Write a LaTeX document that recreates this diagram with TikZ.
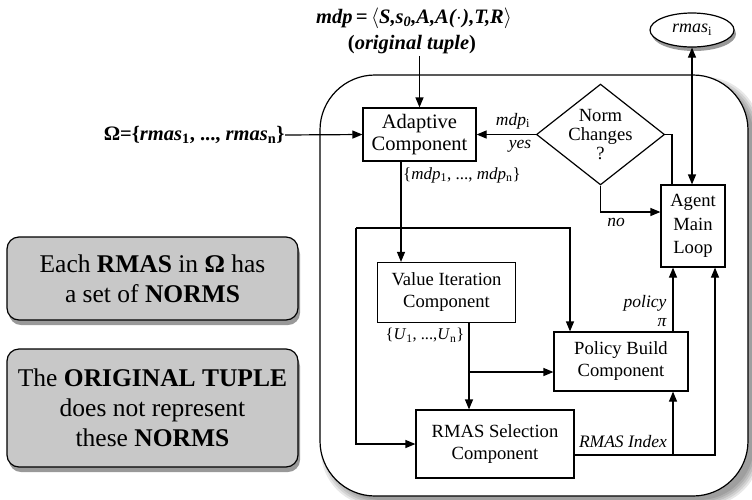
\documentclass[tikz,border=0pt]{standalone}
\usepackage{fontspec}
\setmainfont{Liberation Serif}
\usetikzlibrary{arrows.meta,shapes.geometric,shadows,calc}
\definecolor{boxgray}{RGB}{200,200,200}
\begin{document}
\begin{tikzpicture}[x=1pt,y=-1pt,
  arr/.style={-{Triangle[length=10pt,width=8pt]}},
  arr2/.style={{Triangle[length=10pt,width=8pt]}-{Triangle[length=10pt,width=8pt]}},
  comp/.style={draw,line width=1.2pt,inner sep=0pt,align=center,font=\fontsize{18.6}{22}\selectfont},
  lab/.style={inner sep=0pt,font=\fontsize{17.5}{19}\selectfont\itshape},
  note/.style={draw,line width=1.2pt,rounded corners=12pt,fill=boxgray,align=center,inner sep=0pt,
    font=\fontsize{25.5}{30}\selectfont,
    drop shadow={shadow xshift=2pt,shadow yshift=-5pt,opacity=0.4,fill=black}},
  every path/.style={line width=1.2pt}]
\useasboundingbox (0,0) rectangle (752,499);
% big container with soft shadow
\foreach \d in {0,1.5,3,4.5,6}{
  \fill[black,opacity=0.09,rounded corners=55pt] (321+\d,77+\d) rectangle (760-\d,506-\d);
}
\draw[line width=1.2pt,fill=white,rounded corners=55pt] (320,75) rectangle (748,496);
% notes
\node[note,minimum width=291pt,minimum height=83pt] (n1) at (152.5,278.5)
  {Each \textbf{RMAS} in \textbf{Ω} has\\a set of \textbf{NORMS}};
\node[note,minimum width=291pt,minimum height=118pt] (n2) at (152.5,408)
  {The \textbf{ORIGINAL TUPLE}\\does not represent\\these \textbf{NORMS}};
% components
\node[comp,minimum width=113pt,minimum height=53pt,font=\fontsize{20.5}{22}\selectfont] (adapt) at (419.5,134.5) {Adaptive\\Component};
\node[comp,minimum width=138pt,minimum height=60pt] (vi) at (446.5,292.5) {Value Iteration\\Component};
\node[comp,minimum width=134pt,minimum height=59pt] (pb) at (621,361.5) {Policy Build\\Component};
\node[comp,minimum width=158pt,minimum height=68pt] (rs) at (495,444) {RMAS Selection\\Component};
\node[comp,minimum width=64pt,minimum height=82pt,font=\fontsize{18.6}{23.5}\selectfont] (agent) at (693,226) {Agent\\Main\\Loop};
\node[comp,diamond,minimum width=105pt,minimum height=83pt,aspect=1.27,font=\fontsize{18.6}{19}\selectfont] (dia) at (600.5,134.5) {Norm\\Changes\\?};
\node[draw,ellipse,line width=1.2pt,minimum width=84pt,minimum height=34pt,inner sep=0pt,fill=white,
  drop shadow={shadow xshift=2pt,shadow yshift=-4pt,opacity=0.4,fill=black},
  font=\fontsize{18}{20}\selectfont] (ell) at (692,30) {\textit{rmas}\textsubscript{i}};
% external texts
\node[inner sep=0pt,font=\fontsize{20.5}{22}\selectfont\bfseries\itshape] (mdp) at (414,18)
  {mdp\,=\,$\langle$S,s\textsubscript{0},A,A(\kern.5pt$\cdot$\kern.5pt),T,R$\rangle$};
\node[inner sep=1pt,font=\fontsize{20.5}{22}\selectfont\bfseries] (orig) at (412,45) {(\textit{original tuple})};
\node[inner sep=0pt,anchor=east,font=\fontsize{20.5}{22}\selectfont\bfseries] (omega) at (285,135)
  {Ω=\{\textit{rmas}\textsubscript{1}, ..., \textit{rmas}\textsubscript{n}\}};
% helper coordinates
\coordinate (x1) at (401,0);
\coordinate (x2) at (469,0);
\coordinate (x3) at (570,0);
\coordinate (x4) at (673,0);
\coordinate (x5) at (715,0);
\coordinate (x6) at (672,0);
\coordinate (j1) at (356,228);
\coordinate (b1) at (469,372);
\coordinate (b2) at (673,455);
\coordinate (y3) at (0,455);
\coordinate (y4) at (0,212);
% connectors
\draw[arr] (orig.south -| adapt.north) -- (adapt.north);
\draw[arr] (omega.east) -- (adapt.west);
\draw[arr] (adapt.south -| x1) -- (vi.north -| x1);
\draw[arr] (j1) -| (pb.north -| x3);
\draw[arr] (j1) |- (rs.west);
\draw[arr] (vi.south -| x2) -- (rs.north -| x2);
\draw[arr] (b1) -- (b1 -| pb.west);
\draw[arr] (rs.east |- y3) -| (agent.south -| x5);
\draw[arr] (b2) -- (pb.south -| x4);
\draw[arr] (pb.north -| x4) -- (agent.south -| x4);
\draw[arr] (dia.west) -- (adapt.east);
\draw (dia.east) -| (agent.north -| x6);
\draw[arr] (dia.south) |- (agent.west |- y4);
\draw[arr2] (ell.south) -- (ell.south |- agent.north);
% labels
\node[lab] (l1) at (513,121) {mdp\textsubscript{\upshape i}};
\node[lab] (l2) at (520,146) {yes};
\node[lab,font=\fontsize{17}{19}\selectfont\upshape] (l3) at (462,175) {\{\textit{mdp}\textsubscript{1}, ..., \textit{mdp}\textsubscript{n}\}};
\node[lab] (l4) at (616,222) {no};
\node[lab,font=\fontsize{16.5}{18}\selectfont\upshape] (l5) at (425,335) {\{\textit{U}\textsubscript{1}, ...,\textit{U}\textsubscript{n}\}};
\node[lab,anchor=east] (l6) at (667,303) {policy};
\node[lab,anchor=east] (l7) at (667,323) {π};
\node[lab] (l8) at (623,442) {RMAS Index};
\end{tikzpicture}
\end{document}
